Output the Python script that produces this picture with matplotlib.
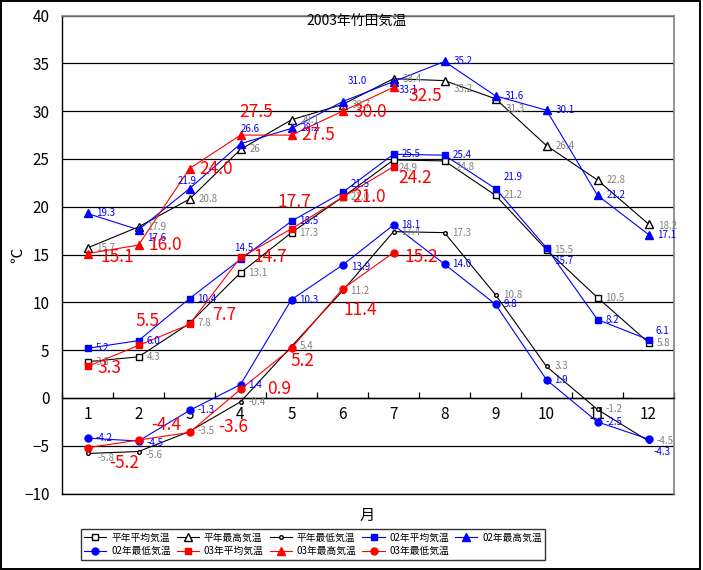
import matplotlib
matplotlib.use("Agg")
import matplotlib.pyplot as plt
from matplotlib.patches import Rectangle

plt.rcParams['font.family'] = ['Noto Sans CJK JP', 'DejaVu Sans']

# data
months = list(range(1, 13))
month_labels = [str(m) for m in months]
heinen_avg = [3.8, 4.3, 7.8, 13.1, 17.3, 21.0, 24.9, 24.8, 21.2, 15.5, 10.5, 5.8]
heinen_max = [15.7, 17.9, 20.8, 26, 29.1, 30.7, 33.4, 33.2, 31.3, 26.4, 22.8, 18.2]
heinen_min = [-5.8, -5.6, -3.5, -0.4, 5.4, 11.2, 17.4, 17.3, 10.8, 3.3, -1.2, -4.5]
y02_avg = [5.2, 6.0, 10.4, 14.5, 18.5, 21.5, 25.5, 25.4, 21.9, 15.7, 8.2, 6.1]
y02_max = [19.3, 17.6, 21.9, 26.6, 28.2, 31.0, 33.1, 35.2, 31.6, 30.1, 21.2, 17.1]
y02_min = [-4.2, -4.5, -1.3, 1.4, 10.3, 13.9, 18.1, 14.0, 9.8, 1.9, -2.5, -4.3]
y03_avg = [3.3, 5.5, 7.7, 14.7, 17.7, 21.0, 24.2]
y03_max = [15.1, 16.0, 24.0, 27.5, 27.5, 30.0, 32.5]
y03_min = [-5.2, -4.4, -3.6, 0.9, 5.2, 11.4, 15.2]
names = ["平年平均気温", "平年最高気温", "平年最低気温",
         "02年平均気温", "02年最高気温", "02年最低気温",
         "03年平均気温", "03年最高気温", "03年最低気温"]

# label offsets in pixels (dx, dy up); default + overrides
off = [
    ((8, 0), {6: (5, -8), 7: (11, -6)}),
    ((9, 0), {7: (9, -8), 8: (10, -10), 11: (10, -2)}),
    ((8, 0), {0: (10, -5), 1: (7, -3)}),
    ((8, 0), {3: (-6, 11), 5: (8, 8), 8: (8, 12), 9: (8, -13), 11: (7, 9)}),
    ((9, 0), {1: (9, -8), 2: (-12, 8), 3: (0, 15), 5: (5, 21), 6: (5, -8)}),
    ((8, 0), {1: (8, -2), 5: (9, -2), 11: (5, -13)}),
    ((10, 0), {0: (10, -2), 1: (-3, 24), 2: (23, 9), 3: (13, 0), 4: (-14, 27), 6: (5, -11)}),
    ((10, 0), {0: (13, -3), 3: (-1, 23), 5: (11, -1), 6: (15, -9)}),
    ((10, 0), {0: (22, -15), 1: (13, 15), 2: (29, 5), 3: (27, 0), 4: (-1, -13), 5: (1, -21), 6: (11, -4)}),
]

series = [heinen_avg, heinen_max, heinen_min, y02_avg, y02_max, y02_min, y03_avg, y03_max, y03_min]
styles = [
    dict(color="black", marker="s", mfc="white", mec="black", ms=5),
    dict(color="black", marker="^", mfc="white", mec="black", ms=5.5),
    dict(color="black", marker="o", mfc="white", mec="black", ms=2.6),
    dict(color="#0000ff", marker="s", ms=5),
    dict(color="#0000ff", marker="^", ms=5.5),
    dict(color="#0000ff", marker="o", ms=5),
    dict(color="#ff0000", marker="s", ms=5),
    dict(color="#ff0000", marker="^", ms=5.5),
    dict(color="#ff0000", marker="o", ms=5),
]
lab_color = ["#808080"] * 3 + ["#0000ff"] * 3 + ["#ff0000"] * 3
lab_size = [7] * 6 + [12.5] * 3

fig = plt.figure(figsize=(7.03, 5.70), dpi=100)
ax = fig.add_axes([62 / 703, 76.4 / 570, 612 / 703, 478 / 570])

handles = []
for i, (vals, st) in enumerate(zip(series, styles)):
    x = months[:len(vals)]
    h, = ax.plot(x, vals, lw=0.8, label=names[i], zorder=3 + i * 0.1, **st)
    handles.append(h)
    default, extra = off[i]
    for j, v in enumerate(vals):
        dx, dy = extra.get(j, default)
        ax.annotate(str(v), (x[j], v), xytext=(dx, dy), textcoords="offset pixels",
                    ha="left", va="center", fontsize=lab_size[i], color=lab_color[i], zorder=10)

ax.set_xlim(0.5, 12.5)
ax.set_ylim(-10, 40)
ax.set_yticks(range(-10, 41, 5))
ax.yaxis.grid(True, color="black", lw=0.9)
ax.axhline(-10, color="black", lw=1.0, clip_on=False)
ax.tick_params(axis="y", length=0, pad=9, labelsize=11)

ax.set_xticks([m - 0.5 for m in months] + [12.5])
ax.set_xticklabels([])
ax.set_xticks(months, minor=True)
ax.set_xticklabels(month_labels, minor=True)
ax.tick_params(axis="x", which="major", direction="in", length=4, color="black", width=0.9)
ax.tick_params(axis="x", which="minor", length=0, pad=6, labelsize=11)

ax.spines["bottom"].set_position(("data", 0))
ax.spines["bottom"].set_linewidth(1.0)
ax.spines["left"].set_linewidth(1.0)
for s in ("top", "right"):
    ax.spines[s].set_color("#808080")
    ax.spines[s].set_linewidth(1.2)

fig.text(357 / 703, 1 - 22 / 570, "2003年竹田気温", ha="center", va="center", fontsize=10)
fig.text(18 / 703, 1 - 255 / 570, "℃", ha="center", va="center", fontsize=11, rotation=90)
fig.text(367 / 703, 1 - 515 / 570, "月", ha="center", va="center", fontsize=11)

order = [0, 5, 1, 6, 2, 7, 3, 8, 4]
leg = fig.legend([handles[k] for k in order], [names[k] for k in order], ncol=5,
                 loc="center", bbox_to_anchor=(313 / 703, 1 - 544.5 / 570),
                 fontsize=7, frameon=True, fancybox=False, edgecolor="black",
                 handlelength=2.3, handletextpad=0.5, columnspacing=0.6,
                 labelspacing=0.35, borderpad=0.35)
leg.get_frame().set_linewidth(1.0)

fig.patches.append(Rectangle((0.7 / 703, 1.0 / 570), 699.5 / 703, 568 / 570, transform=fig.transFigure,
                             fill=False, ec="black", lw=1.4))

fig.savefig("out.png", dpi=100)
